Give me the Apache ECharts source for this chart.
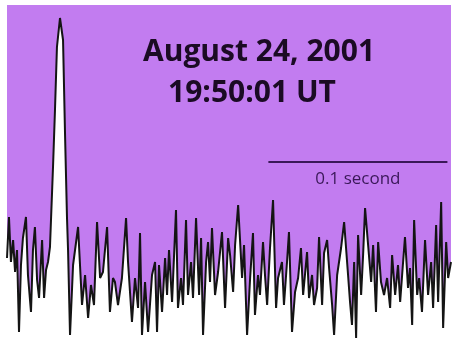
<!DOCTYPE html>
<html>
<head>
<meta charset="utf-8">
<script src="https://cdn.jsdelivr.net/npm/echarts@6/dist/echarts.min.js"></script>
<style>
  html, body { margin: 0; padding: 0; background: #fff; }
  #chart { width: 453px; height: 339px; }
</style>
</head>
<body>
<div id="chart"></div>
<script>
// time since start of trace, ms
const timeMs = [
    0, 1.1, 2.2, 3.4, 4.5, 5.6, 6.7, 7.8, 8.9, 10.6, 11.7, 13.4, 14.5, 15.6, 16.8, 17.9, 19.6, 20.7, 21.8, 22.9, 24.0,
    25.7, 26.8, 27.9, 29.6, 31.3, 32.4, 33.5, 34.1, 35.2, 36.9, 39.7, 41.9, 43.6, 45.3, 46.9, 48.6, 50.3, 52.0, 53.6,
    55.9, 57.5, 59.2,
    60.3, 62.0, 64.2, 66.5, 67.6, 69.8, 71.5, 73.2, 74.3, 75.4, 77.1, 78.8, 81.0, 82.7, 83.8, 84.9, 86.6, 88.3, 89.4,
    90.5, 92.2, 94.4, 95.5, 97.2, 98.3, 100.0, 101.1, 102.8, 103.9, 105.6, 107.3, 108.4, 109.5, 111.2, 112.3, 113.4,
    114.5, 116.2, 117.9, 120.1, 121.8, 123.5,
    124.6, 126.3, 127.4, 129.1, 131.3, 132.4, 134.1, 135.8, 137.4, 138.5, 140.2, 141.3, 143.0, 144.1, 145.3, 146.9,
    148.6, 150.3, 151.4, 153.6, 154.7, 156.4, 157.5, 159.2, 160.9, 162.6, 164.2, 165.4, 167.6, 168.7, 170.4, 171.5,
    173.2, 174.3, 176.0, 177.1, 178.8, 179.9, 181.6, 182.7, 184.4, 186.6, 188.3,
    190.5, 191.6, 192.7, 193.9, 195.0, 196.1, 197.8, 198.9, 200.0, 201.7, 203.4, 204.5, 206.1, 207.3, 208.9, 210.6,
    212.3, 214.0, 215.1, 216.8, 218.4, 219.6, 220.7, 222.3, 224.0, 225.1, 226.3, 227.4, 229.1, 230.2, 231.8, 233.5,
    235.2, 236.9, 238.0, 239.7, 240.8, 242.5, 243.6, 245.3, 246.4, 248.0,
];
// signal intensity, arbitrary units
const intensity = [
    81, 122, 77, 99, 67, 89, 7, 74, 101, 122, 64, 27, 89, 112, 59, 41, 99, 41, 69, 77, 92,
    172, 229, 292, 321, 299, 206, 122, 89, 4, 74, 112, 34, 64, 21, 54, 34, 117, 61, 67,
    112, 27, 61,
    57, 34, 61, 121, 77, 17, 61, 31, 106, 4, 57, 7, 64, 77, 7, 74, 27, 81, 44,
    89, 37, 129, 31, 61, 34, 119, 44, 77, 41, 121, 44, 101, 4, 77, 97, 57,
    111, 44, 67, 107, 31, 101,
    84, 47, 94, 134, 61, 94, 4, 61, 106, 24, 64, 44, 97, 64, 34, 91,
    139, 31, 61, 77, 34, 77, 107, 7, 47, 61, 91, 44, 87, 41, 64, 34,
    51, 102, 34, 86, 99, 71, 34, 4, 64, 91, 117,
    64, 37, 14, 77, 1, 104, 44, 84, 131, 94, 57, 94, 27, 97, 57, 44,
    61, 31, 84, 44, 74, 37, 64, 102, 51, 71, 14, 119, 44, 61, 27, 99,
    44, 77, 31, 114, 37, 137, 11, 97, 61, 77,
];
// 0.1 second scale bar
const scaleBarMs = [146, 246];
const scaleBarLevel = 177;
const titleLines = ['August 24, 2001', '19:50:01 UT'];
const scaleLabel = '0.1 second';

const myChart = echarts.init(document.getElementById('chart'));
const titleStyle = {
    fontFamily: 'Open Sans',
    fontWeight: 'bold',
    fontSize: 30,
    color: '#1b0b24',
};
const option = {
    backgroundColor: '#fff',
    animation: false,
    title: [
        { text: titleLines[0], left: 254, top: 32, textAlign: 'center', textStyle: titleStyle },
        { text: titleLines[1], left: 247, top: 73, textAlign: 'center', textStyle: titleStyle },
    ],
    grid: {
        left: 7,
        right: 2,
        top: 5,
        bottom: 0,
        show: true,
        borderWidth: 0,
        backgroundColor: '#c27cf0',
    },
    xAxis: { type: 'value', min: 0, max: 248, show: false },
    yAxis: { type: 'value', min: 0, max: 334, show: false },
    series: [
        {
            type: 'line',
            data: timeMs.map((t, i) => [t, intensity[i]]),
            symbol: 'none',
            lineStyle: { color: '#141414', width: 2 },
            areaStyle: { color: '#fff', opacity: 1, origin: 'start' },
            markLine: {
                symbol: 'none',
                silent: true,
                lineStyle: { color: '#3a1858', width: 2, type: 'solid' },
                label: {
                    show: true,
                    position: 'insideMiddleBottom',
                    formatter: scaleLabel,
                    fontFamily: 'Open Sans',
                    fontSize: 17,
                    color: '#3a1858',
                    distance: 9,
                },
                data: [
                    [
                        { coord: [scaleBarMs[0], scaleBarLevel] },
                        { coord: [scaleBarMs[1], scaleBarLevel] },
                    ],
                ],
            },
        },
    ],
};
myChart.setOption(option);
</script>
</body>
</html>
